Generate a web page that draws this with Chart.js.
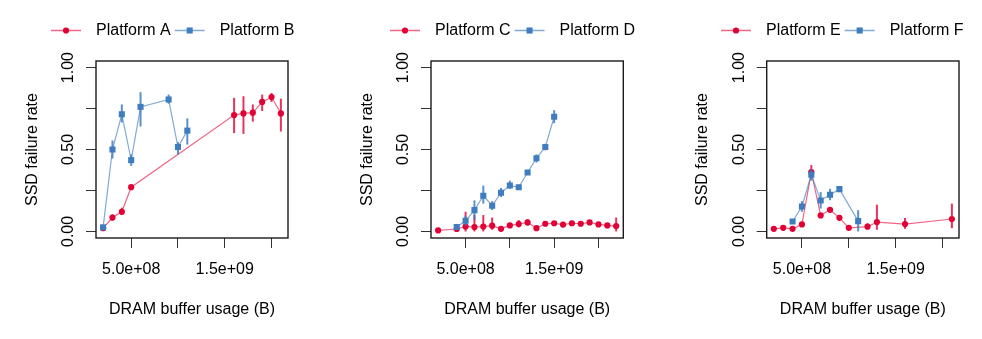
<!DOCTYPE html>
<html>
<head>
<meta charset="utf-8">
<script src="https://cdn.jsdelivr.net/npm/chart.js@4/dist/chart.umd.min.js"></script>
<style>
  html, body { margin: 0; padding: 0; background: #fff; }
  #wrap { position: relative; width: 982px; height: 339px; }
  #wrap canvas { position: absolute; left: 0; top: 0; }
</style>
</head>
<body>
<div id="wrap">
  <canvas id="chart1" width="982" height="339"></canvas>
  <canvas id="chart2" width="982" height="339"></canvas>
  <canvas id="chart3" width="982" height="339"></canvas>
</div>
<script>
// Platform A / B
const xA = [2e8, 3e8, 4e8, 5e8, 1.6e9, 1.7e9, 1.8e9, 1.9e9, 2.0e9, 2.1e9];
const yA = [0.02, 0.085, 0.12, 0.27, 0.71, 0.72, 0.725, 0.79, 0.82, 0.72];
const loA = [0.01, 0.065, 0.10, 0.26, 0.60, 0.595, 0.67, 0.735, 0.79, 0.61];
const hiA = [0.03, 0.105, 0.145, 0.28, 0.815, 0.825, 0.775, 0.835, 0.845, 0.81];

const xB = [2e8, 3e8, 4e8, 5e8, 6e8, 9e8, 1.0e9, 1.1e9];
const yB = [0.025, 0.50, 0.715, 0.435, 0.76, 0.805, 0.515, 0.615];
const loB = [0.02, 0.445, 0.665, 0.40, 0.64, 0.78, 0.47, 0.53];
const hiB = [0.03, 0.555, 0.775, 0.47, 0.85, 0.835, 0.545, 0.69];

// Platform C / D
const xC = [1.9e8, 4e8, 5e8, 6e8, 7e8, 8e8, 9e8, 1.0e9, 1.1e9, 1.2e9, 1.3e9, 1.4e9, 1.5e9, 1.6e9, 1.7e9, 1.8e9, 1.9e9, 2.0e9, 2.1e9, 2.2e9];
const yC = [0.006, 0.015, 0.03, 0.027, 0.03, 0.035, 0.016, 0.037, 0.045, 0.055, 0.02, 0.047, 0.05, 0.042, 0.05, 0.047, 0.055, 0.043, 0.037, 0.033];
const loC = [0.004, 0.01, 0.0, 0.0, 0.0, 0.01, 0.01, 0.025, 0.025, 0.035, 0.012, 0.035, 0.04, 0.035, 0.04, 0.04, 0.045, 0.035, 0.03, 0.0];
const hiC = [0.008, 0.02, 0.12, 0.10, 0.10, 0.085, 0.022, 0.05, 0.07, 0.075, 0.028, 0.06, 0.06, 0.05, 0.06, 0.055, 0.065, 0.05, 0.045, 0.085];

const xD = [4e8, 5e8, 6e8, 7e8, 8e8, 9e8, 1.0e9, 1.1e9, 1.2e9, 1.3e9, 1.4e9, 1.5e9];
const yD = [0.027, 0.065, 0.13, 0.218, 0.157, 0.236, 0.28, 0.27, 0.36, 0.447, 0.515, 0.70];
const loD = [0.02, 0.035, 0.07, 0.17, 0.13, 0.21, 0.26, 0.255, 0.345, 0.42, 0.495, 0.66];
const hiD = [0.035, 0.095, 0.19, 0.28, 0.185, 0.265, 0.31, 0.285, 0.375, 0.47, 0.535, 0.74];

// Platform E / F
const xE = [2e8, 3e8, 4e8, 5e8, 6e8, 7e8, 8e8, 9e8, 1.0e9, 1.2e9, 1.3e9, 1.6e9, 2.1e9];
const yE = [0.016, 0.022, 0.016, 0.043, 0.362, 0.098, 0.132, 0.083, 0.022, 0.029, 0.057, 0.045, 0.076];
const loE = [0.01, 0.015, 0.01, 0.035, 0.33, 0.09, 0.12, 0.075, 0.015, 0.015, 0.01, 0.016, 0.02];
const hiE = [0.02, 0.03, 0.02, 0.05, 0.405, 0.11, 0.145, 0.09, 0.03, 0.05, 0.163, 0.082, 0.17];

const xF = [4e8, 5e8, 6e8, 7e8, 8e8, 9e8, 1.1e9];
const yF = [0.061, 0.152, 0.346, 0.189, 0.224, 0.258, 0.063];
const loF = [0.05, 0.12, 0.31, 0.14, 0.19, 0.24, 0.0];
const hiF = [0.07, 0.185, 0.38, 0.24, 0.26, 0.275, 0.13];

// axis ticks
const yTicks = [0, 0.25, 0.5, 0.75, 1];
const yTickText = ['0.00', '', '0.50', '', '1.00'];
const xTicks = [5e8, 1e9, 1.5e9, 2e9];
const xTickText = ['5.0e+08', '', '1.5e+09', ''];

const RED = 'rgb(226, 0, 52)';
const RED_LINE = 'rgba(226, 0, 52, 0.6)';
const RED_BAR = 'rgba(226, 0, 52, 0.8)';
const BLUE = 'rgb(63, 125, 191)';
const BLUE_LINE = 'rgba(63, 125, 191, 0.65)';
const BLUE_BAR = 'rgba(63, 125, 191, 0.85)';

const FONT = { family: "'Liberation Sans', Arial, sans-serif", size: 16 };
Chart.defaults.font.family = FONT.family;
Chart.defaults.font.size = 16;
Chart.defaults.color = '#000';

// vertical error bars, drawn right after each dataset
const errorBars = {
  id: 'errorBars',
  afterDatasetDraw(chart, args) {
    const ds = chart.data.datasets[args.index];
    if (!ds.lo) return;
    const { ctx, scales: { x, y } } = chart;
    ctx.save();
    ctx.strokeStyle = ds.barColor;
    ctx.lineWidth = 2;
    ds.data.forEach((p, i) => {
      const px = x.getPixelForValue(p.x);
      ctx.beginPath();
      ctx.moveTo(px, y.getPixelForValue(ds.lo[i]));
      ctx.lineTo(px, y.getPixelForValue(ds.hi[i]));
      ctx.stroke();
    });
    ctx.restore();
  }
};

// box around the plot region
const frame = {
  id: 'frame',
  beforeDatasetsDraw(chart) {
    const { ctx, chartArea: a } = chart;
    ctx.save();
    ctx.strokeStyle = '#1a1a1a';
    ctx.lineWidth = 1.4;
    ctx.strokeRect(a.left, a.top, a.right - a.left, a.bottom - a.top);
    ctx.restore();
  }
};

// horizontal legend: line + marker, then label
const pairLegend = {
  id: 'pairLegend',
  afterDraw(chart, args, opts) {
    const ctx = chart.ctx;
    ctx.save();
    ctx.font = '16px ' + FONT.family;
    ctx.textBaseline = 'middle';
    let m = opts.x;
    const y = opts.y;
    chart.data.datasets.forEach(ds => {
      ctx.strokeStyle = ds.borderColor;
      ctx.lineWidth = 1.5;
      ctx.beginPath();
      ctx.moveTo(m - 15, y);
      ctx.lineTo(m + 15, y);
      ctx.stroke();
      ctx.fillStyle = ds.pointBackgroundColor;
      if (ds.pointStyle === 'rect') {
        const s = ds.pointRadius * Math.SQRT1_2;
        ctx.fillRect(m - s, y - s, 2 * s, 2 * s);
      } else {
        ctx.beginPath();
        ctx.arc(m, y, ds.pointRadius, 0, Math.PI * 2);
        ctx.fill();
      }
      ctx.fillStyle = '#000';
      ctx.textAlign = 'left';
      const tx = m + 30;
      ctx.fillText(ds.label, tx, y);
      m = tx + ctx.measureText(ds.label).width + 19;
    });
    ctx.restore();
  }
};

function series(label, xs, ys, lo, hi, isRed) {
  return {
    label: label,
    data: xs.map((v, i) => ({ x: v, y: ys[i] })),
    lo: lo,
    hi: hi,
    showLine: true,
    borderColor: isRed ? RED_LINE : BLUE_LINE,
    borderWidth: 1.2,
    pointStyle: isRed ? 'circle' : 'rect',
    pointRadius: isRed ? 3.1 : 4.3,
    pointBackgroundColor: isRed ? RED : BLUE,
    pointBorderWidth: 0,
    barColor: isRed ? RED_BAR : BLUE_BAR,
    order: isRed ? 1 : 0
  };
}

const gridOpts = { drawOnChartArea: false, drawTicks: true, tickLength: 10, color: '#333', lineWidth: 1 };

function makePanel(id, left, right, legendX, red, blue) {
  const allX = red.data.concat(blue.data).map(p => p.x);
  const lo = Math.min(...allX), hi = Math.max(...allX);
  const pad = (hi - lo) * 0.04;
  return new Chart(document.getElementById(id), {
    type: 'scatter',
    data: { datasets: [red, blue] },
    options: {
      responsive: false,
      animation: false,
      devicePixelRatio: 1,
      layout: { padding: { left: left - 78, right: 982 - right, top: 61, bottom: 18 } },
      plugins: {
        legend: { display: false },
        tooltip: { enabled: false },
        pairLegend: { x: legendX, y: 30.5 }
      },
      scales: {
        x: {
          type: 'linear',
          min: lo - pad,
          max: hi + pad,
          afterFit: s => { s.height = 83; },
          afterBuildTicks: s => { s.ticks = xTicks.map(v => ({ value: v })); },
          ticks: {
            autoSkip: false, maxRotation: 0, minRotation: 0, padding: 12,
            color: '#000', font: FONT,
            callback: v => xTickText[xTicks.indexOf(v)] || ''
          },
          grid: gridOpts,
          border: { display: false },
          title: { display: true, text: 'DRAM buffer usage (B)', color: '#000', font: FONT, padding: { top: 0, bottom: 1.5 } }
        },
        y: {
          type: 'linear',
          min: -0.04,
          max: 1.04,
          afterFit: s => { s.width = 78; },
          afterBuildTicks: s => { s.ticks = yTicks.map(v => ({ value: v })); },
          ticks: {
            autoSkip: false, minRotation: 90, maxRotation: 90, crossAlign: 'center', padding: 2,
            color: '#000', font: FONT,
            callback: v => yTickText[yTicks.indexOf(v)] || ''
          },
          grid: gridOpts,
          border: { display: false },
          title: { display: true, text: 'SSD failure rate', color: '#000', font: FONT, padding: { top: 4.5, bottom: 0 } }
        }
      }
    },
    plugins: [frame, errorBars, pairLegend]
  });
}

makePanel('chart1', 96, 288, 66,
  series('Platform A', xA, yA, loA, hiA, true),
  series('Platform B', xB, yB, loB, hiB, false));
makePanel('chart2', 431, 623.3, 405,
  series('Platform C', xC, yC, loC, hiC, true),
  series('Platform D', xD, yD, loD, hiD, false));
makePanel('chart3', 766.7, 959, 736,
  series('Platform E', xE, yE, loE, hiE, true),
  series('Platform F', xF, yF, loF, hiF, false));
</script>
</body>
</html>
